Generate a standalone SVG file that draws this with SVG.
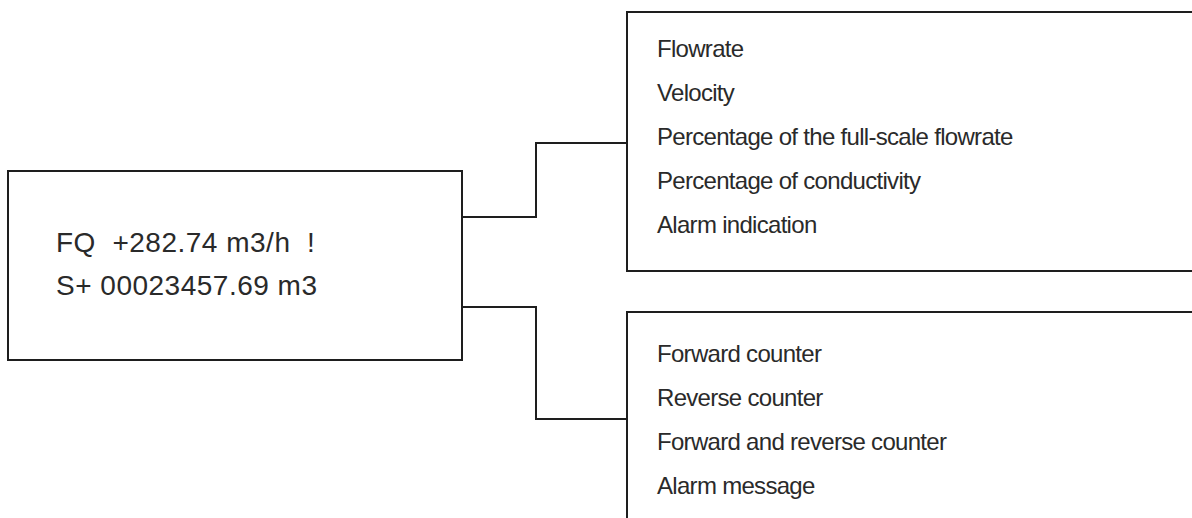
<svg xmlns="http://www.w3.org/2000/svg" width="1192" height="518" viewBox="0 0 1192 518">
  <style>
    .box { fill: #ffffff; stroke: #1e1e1e; stroke-width: 2; }
    .wire { fill: none; stroke: #1e1e1e; stroke-width: 2; }
    .main { font-family: "Liberation Sans", Arial, sans-serif; font-size: 28px; fill: #2a2a2a; letter-spacing: 0.5px; }
    .item { font-family: "Liberation Sans", Arial, sans-serif; font-size: 24px; fill: #2a2a2a; letter-spacing: -0.7px; }
  </style>
  <rect width="1192" height="518" fill="#ffffff"/>

  <!-- display readout -->
  <g id="display">
    <rect class="box" x="8" y="171" width="454" height="189"/>
    <text class="main" x="56" y="252" xml:space="preserve">FQ  +282.74 m3/h  !</text>
    <text class="main" x="56" y="295">S+ 00023457.69 m3</text>
  </g>

  <!-- first line options -->
  <g id="line1-options">
    <path class="box" d="M1193 12 H627 V271 H1193"/>
    <text class="item" x="657" y="57">Flowrate</text>
    <text class="item" x="657" y="101">Velocity</text>
    <text class="item" x="657" y="145">Percentage of the full-scale flowrate</text>
    <text class="item" x="657" y="189">Percentage of conductivity</text>
    <text class="item" x="657" y="233">Alarm indication</text>
  </g>

  <!-- second line options -->
  <g id="line2-options">
    <path class="box" d="M1193 312 H627 V519"/>
    <text class="item" x="657" y="362">Forward counter</text>
    <text class="item" x="657" y="406">Reverse counter</text>
    <text class="item" x="657" y="450">Forward and reverse counter</text>
    <text class="item" x="657" y="494">Alarm message</text>
  </g>

  <!-- connectors -->
  <g id="connectors">
    <path class="wire" d="M462 217 H536 V143 H627"/>
    <path class="wire" d="M462 307 H536 V419 H627"/>
  </g>
</svg>
